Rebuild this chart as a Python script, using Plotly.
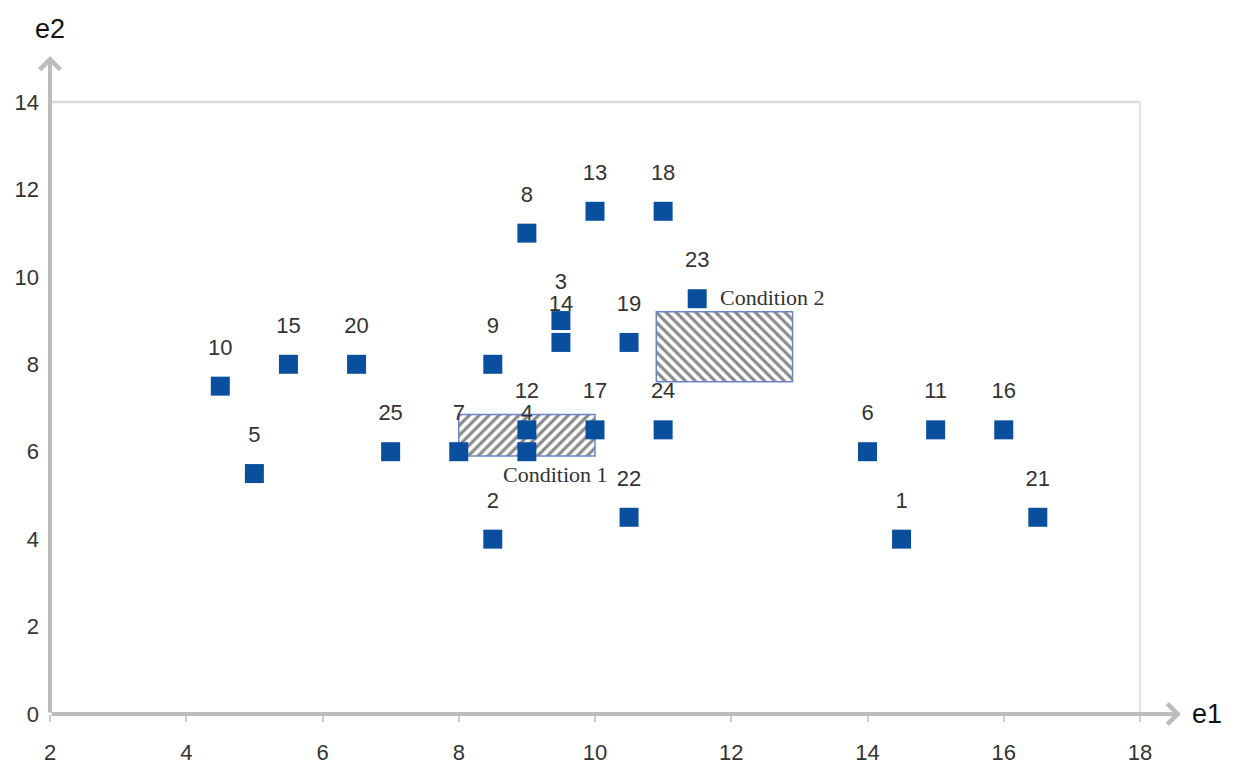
import plotly.graph_objects as go

# Data
labels = [str(i) for i in range(1, 26)]
e1 = [14.5, 8.5, 9.5, 9, 5, 14, 8, 9, 8.5, 4.5, 15, 9, 10, 9.5, 5.5, 16, 10, 11, 10.5, 6.5, 16.5, 10.5, 11.5, 11, 7]
e2 = [4, 4, 9, 6, 5.5, 6, 6, 11, 8, 7.5, 6.5, 6.5, 11.5, 8.5, 8, 6.5, 6.5, 11.5, 8.5, 8, 4.5, 4.5, 9.5, 6.5, 6]

cond1_x = [8, 10, 10, 8, 8]
cond1_y = [5.9, 5.9, 6.85, 6.85, 5.9]
cond2_x = [10.9, 12.9, 12.9, 10.9, 10.9]
cond2_y = [7.6, 7.6, 9.2, 9.2, 7.6]

x_ticks = [2, 4, 6, 8, 10, 12, 14, 16, 18]
y_ticks = [0, 2, 4, 6, 8, 10, 12, 14]

tick_font = dict(family="Liberation Sans Narrow, Liberation Sans, Arial", size=22, color="#333")
serif_font = dict(family="Liberation Serif, DejaVu Serif, serif", size=22, color="#333")

fig = go.Figure()

fig.add_trace(go.Scatter(
    x=cond1_x, y=cond1_y, mode="lines", fill="toself",
    line=dict(color="#6a86c8", width=1.5),
    fillcolor="white",
    fillpattern=dict(shape="/", fgcolor="#111", bgcolor="white", size=7, solidity=0.45),
    hoverinfo="skip", showlegend=False,
))
fig.add_trace(go.Scatter(
    x=cond2_x, y=cond2_y, mode="lines", fill="toself",
    line=dict(color="#6a86c8", width=1.5),
    fillcolor="white",
    fillpattern=dict(shape="\\", fgcolor="#111", bgcolor="white", size=7, solidity=0.45),
    hoverinfo="skip", showlegend=False,
))

# labels (carried by an invisible, larger marker so they sit higher)
fig.add_trace(go.Scatter(
    x=e1, y=e2, mode="markers+text", text=labels, textposition="top center",
    textfont=tick_font,
    marker=dict(symbol="square", size=40, color="rgba(0,0,0,0)"),
    cliponaxis=False, showlegend=False, hoverinfo="skip",
))
fig.add_trace(go.Scatter(
    x=e1, y=e2, mode="markers", text=labels,
    marker=dict(symbol="square", size=19, color="#0a4f9e"),
    cliponaxis=False, showlegend=False,
))

# axis arrows
fig.add_annotation(x=2, y=15.05, ax=2, ay=0, xref="x", yref="y", axref="x", ayref="y",
                   text="", showarrow=True, arrowhead=4, arrowsize=1, arrowwidth=4, arrowcolor="#bdbdbd")
fig.add_annotation(x=18.6, y=0, ax=2, ay=0, xref="x", yref="y", axref="x", ayref="y",
                   text="", showarrow=True, arrowhead=4, arrowsize=1, arrowwidth=4, arrowcolor="#bdbdbd")

fig.add_annotation(x=0.0, y=1.092, xref="paper", yref="paper", text="e2", showarrow=False,
                   yanchor="bottom", xanchor="center",
                   font=dict(family="Liberation Sans, Arial", size=27, color="#111"))
fig.add_annotation(x=1.046, y=0, xref="paper", yref="paper", text="e1", showarrow=False,
                   xanchor="left", yanchor="middle",
                   font=dict(family="Liberation Sans, Arial", size=27, color="#111"))

fig.add_annotation(x=9.42, y=5.47, xref="x", yref="y", text="Condition 1", showarrow=False,
                   font=serif_font)
fig.add_annotation(x=11.8, y=9.52, xref="x", yref="y", text="Condition 2", showarrow=False,
                   xanchor="left", font=serif_font)

# top and right borders
fig.add_shape(type="line", xref="paper", yref="paper", x0=0, x1=1, y0=1, y1=1,
              line=dict(color="#d9d9d9", width=2.5), layer="below")
fig.add_shape(type="line", xref="paper", yref="paper", x0=1, x1=1, y0=0, y1=1,
              line=dict(color="#e3e3e3", width=2), layer="below")

fig.update_layout(
    width=1234, height=772,
    margin=dict(l=42, r=102, t=94, b=66, autoexpand=False),
    paper_bgcolor="white", plot_bgcolor="white",
    xaxis=dict(range=[2, 18], tickvals=x_ticks, ticktext=[str(v) for v in x_ticks],
               showgrid=False, zeroline=False, showline=False, automargin=False,
               ticks="outside", ticklen=7, tickcolor="#cccccc", tickwidth=1.5,
               tickfont=tick_font, ticklabelstandoff=12),
    yaxis=dict(range=[0, 14], tickvals=y_ticks, ticktext=[str(v) for v in y_ticks],
               showgrid=False, zeroline=False, showline=False, automargin=False,
               ticks="", tickfont=tick_font, ticklabelstandoff=10),
)

fig.write_html("out.html")
